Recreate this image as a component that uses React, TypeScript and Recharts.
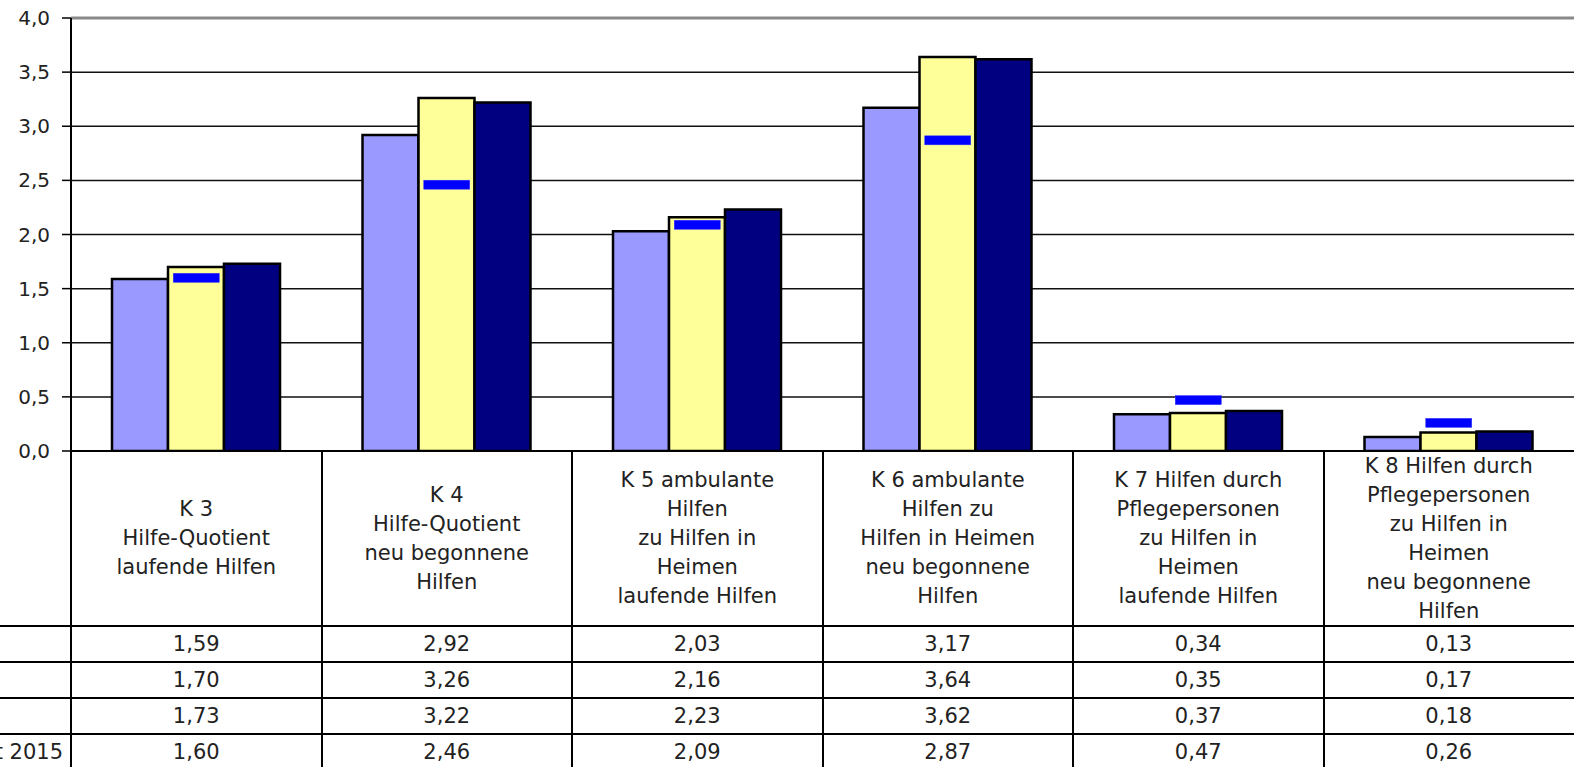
import { ComposedChart, Bar, Line, XAxis, YAxis, CartesianGrid, ReferenceLine } from "recharts";

const categories = ["K 3", "K 4", "K 5", "K 6", "K 7", "K 8"];

const categoryLabels = [
  ["K 3", "Hilfe-Quotient", "laufende Hilfen"],
  ["K 4", "Hilfe-Quotient", "neu begonnene", "Hilfen"],
  ["K 5 ambulante", "Hilfen", "zu Hilfen in", "Heimen", "laufende Hilfen"],
  ["K 6 ambulante", "Hilfen zu", "Hilfen in Heimen", "neu begonnene", "Hilfen"],
  ["K 7 Hilfen durch", "Pflegepersonen", "zu Hilfen in", "Heimen", "laufende Hilfen"],
  ["K 8 Hilfen durch", "Pflegepersonen", "zu Hilfen in", "Heimen", "neu begonnene", "Hilfen"],
];

const series1 = [1.59, 2.92, 2.03, 3.17, 0.34, 0.13];
const series2 = [1.7, 3.26, 2.16, 3.64, 0.35, 0.17];
const series3 = [1.73, 3.22, 2.23, 3.62, 0.37, 0.18];
const average = [1.6, 2.46, 2.09, 2.87, 0.47, 0.26];

// only the right end of the row labels is inside the picture
const rowLabels = ["", "", "", "Landesdurchschnitt 2015"];

const yTicks = [0, 0.5, 1, 1.5, 2, 2.5, 3, 3.5, 4];

const data = categories.map((cat, i) => ({
  cat,
  s1: series1[i],
  s2: series2[i],
  s3: series3[i],
  avg: average[i],
}));

const W = 1574;
const H = 767;
const PLOT_LEFT = 71;
const PLOT_TOP = 18;
const PLOT_BOTTOM = 451;
const COL_W = (W - PLOT_LEFT) / categories.length;
const HEADER_BOTTOM = 626;
const ROW_H = 36;

const font = "'DejaVu Sans', sans-serif";
const fmt = (v: number, d: number) => v.toFixed(d).replace(".", ",");

const renderMarker = (props: any) => {
  const { cx, cy, index } = props;
  if (cx == null || cy == null) return <g key={`m-${index}`} />;
  return <rect key={`m-${index}`} x={cx - 23} y={cy - 4.5} width={46} height={9} fill="#0000FF" stroke="#3333ff" strokeWidth={0.5} />;
};

const App = () => {
  const rows = [series1, series2, series3, average];
  return (
    <div style={{ position: "fixed", left: 0, top: 0, width: W, height: H, background: "#fff", overflow: "hidden", fontFamily: font, color: "#222" }}>
      <ComposedChart
        width={W}
        height={PLOT_BOTTOM + 20}
        data={data}
        margin={{ top: PLOT_TOP, right: 0, bottom: 20, left: 0 }}
        barCategoryGap={41}
        barGap={0}
      >
        <CartesianGrid vertical={false} stroke="#111" strokeWidth={1.5} />
        <XAxis dataKey="cat" hide />
        <YAxis
          width={PLOT_LEFT}
          domain={[0, 4]}
          ticks={yTicks}
          interval={0}
          tickSize={9}
          tickMargin={12}
          tickFormatter={(v: number) => fmt(v, 1)}
          tick={{ fill: "#222", fontSize: 20, fontFamily: font }}
          axisLine={{ stroke: "#000", strokeWidth: 2 }}
          tickLine={{ stroke: "#000", strokeWidth: 1.5 }}
        />
        <ReferenceLine y={4} stroke="#8a8a8a" strokeWidth={3} />
        <Bar dataKey="s1" fill="#9999FF" stroke="#000" strokeWidth={2.5} isAnimationActive={false} />
        <Bar dataKey="s2" fill="#FFFF99" stroke="#000" strokeWidth={2.5} isAnimationActive={false} />
        <Bar dataKey="s3" fill="#000080" stroke="#000" strokeWidth={2.5} isAnimationActive={false} />
        <Line dataKey="avg" stroke="none" dot={renderMarker} activeDot={false} isAnimationActive={false} legendType="none" />
      </ComposedChart>

      {/* data table below the plot */}
      <div style={{ position: "absolute", left: PLOT_LEFT, top: PLOT_BOTTOM + 1, width: W - PLOT_LEFT, height: H - PLOT_BOTTOM, background: "#fff" }} />
      {categories.map((_, i) => (
        <div key={`v-${i}`} style={{ position: "absolute", left: PLOT_LEFT + i * COL_W - 1, top: PLOT_BOTTOM, width: 2, height: H - PLOT_BOTTOM, background: "#000" }} />
      ))}
      <div style={{ position: "absolute", left: PLOT_LEFT, top: PLOT_BOTTOM - 1, width: W - PLOT_LEFT, height: 2, background: "#000" }} />
      {rows.map((_, r) => (
        <div key={`h-${r}`} style={{ position: "absolute", left: 0, top: HEADER_BOTTOM + r * ROW_H - 1, width: W, height: 2, background: "#000" }} />
      ))}
      {categoryLabels.map((lines, i) => (
        <div
          key={`c-${i}`}
          style={{
            position: "absolute",
            left: PLOT_LEFT + i * COL_W,
            top: PLOT_BOTTOM,
            width: COL_W,
            height: HEADER_BOTTOM - PLOT_BOTTOM,
            display: "flex",
            flexDirection: "column",
            justifyContent: "center",
            alignItems: "center",
            fontSize: 21,
            lineHeight: "29px",
            textAlign: "center",
          }}
        >
          {lines.map((l, k) => (
            <div key={k} style={{ whiteSpace: "nowrap" }}>{l}</div>
          ))}
        </div>
      ))}
      {rows.map((vals, r) => (
        <div key={`r-${r}`}>
          <div
            style={{
              position: "absolute",
              left: -300,
              top: HEADER_BOTTOM + r * ROW_H,
              width: 300 + PLOT_LEFT - 8,
              height: ROW_H,
              lineHeight: `${ROW_H}px`,
              fontSize: 21,
              textAlign: "right",
              whiteSpace: "nowrap",
            }}
          >
            {rowLabels[r]}
          </div>
          {vals.map((v, i) => (
            <div
              key={i}
              style={{
                position: "absolute",
                left: PLOT_LEFT + i * COL_W,
                top: HEADER_BOTTOM + r * ROW_H,
                width: COL_W,
                height: ROW_H,
                lineHeight: `${ROW_H}px`,
                fontSize: 21,
                textAlign: "center",
              }}
            >
              {fmt(v, 2)}
            </div>
          ))}
        </div>
      ))}
    </div>
  );
};

export default App;
